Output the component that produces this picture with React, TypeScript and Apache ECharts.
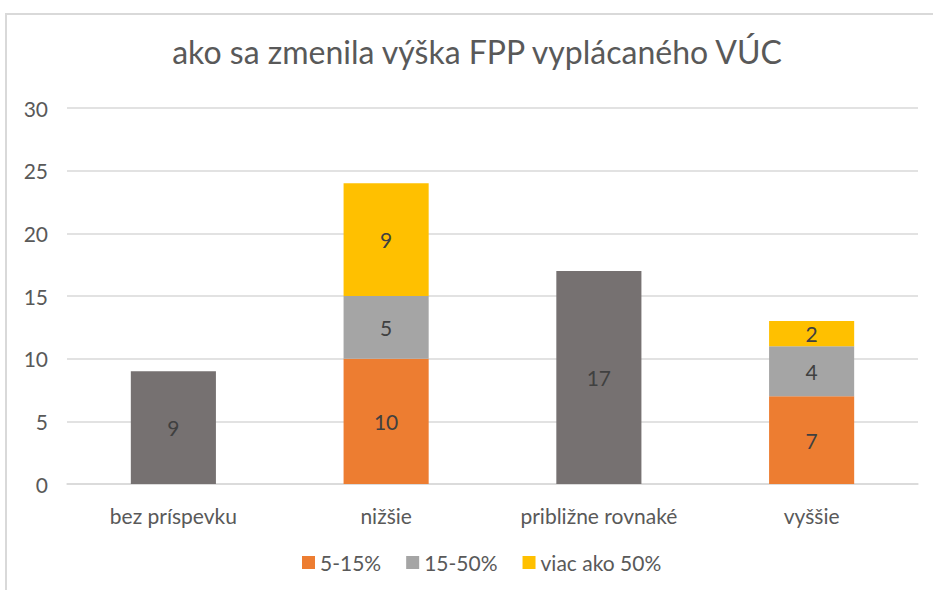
import React, { useEffect, useRef } from "react";
import * as echarts from "echarts";

const titleText = "ako sa zmenila výška FPP vyplácaného VÚC";
const categories = ["bez príspevku", "nižšie", "približne rovnaké", "vyššie"];
const seriesNames = ["5-15%", "15-50%", "viac ako 50%"];
const totalsNoSplit: (number | string)[] = [9, "-", 17, "-"];
const s5to15: (number | string)[] = ["-", 10, "-", 7];
const s15to50: (number | string)[] = ["-", 5, "-", 4];
const sOver50: (number | string)[] = ["-", 9, "-", 2];
const yTicks = { min: 0, max: 30, interval: 5 };

const FONT = "Lato, 'Liberation Sans', sans-serif";
const TXT = "#595959";
const FS = 21;

export default function App() {
  const ref = useRef<HTMLDivElement>(null);
  useEffect(() => {
    if (!ref.current) return;
    const chart = echarts.init(ref.current, undefined, { renderer: "svg" });
    const label = {
      show: true,
      position: "inside",
      color: "#404040",
      fontSize: FS,
      fontFamily: FONT,
    };
    const mk = (name: string, data: (number | string)[], color: string) => ({
      name,
      type: "bar",
      stack: "total",
      data,
      barWidth: "40%",
      itemStyle: { color },
      label,
    });
    chart.setOption({
      animation: false,
      backgroundColor: "#ffffff",
      textStyle: { fontFamily: FONT },
      title: {
        text: titleText,
        left: 477,
        textAlign: "center",
        top: 35,
        padding: 0,
        textStyle: { color: TXT, fontSize: 32, fontWeight: "normal", fontFamily: FONT },
      },
      graphic: [
        {
          type: "rect",
          shape: { x: 6, y: 14, width: 1200, height: 800 },
          style: { fill: "none", stroke: "#D9D9D9", lineWidth: 2 },
          silent: true,
          z: -1,
        },
      ],
      legend: {
        data: seriesNames,
        left: 302,
        top: 552,
        padding: 0,
        itemWidth: 13,
        itemHeight: 13,
        itemGap: 25,
        icon: "rect",
        textStyle: { color: TXT, fontSize: FS, fontFamily: FONT },
      },
      grid: { left: 67, right: 15, top: 108, bottom: 106 },
      xAxis: {
        type: "category",
        data: categories,
        axisLine: { lineStyle: { color: "#D9D9D9", width: 1.5 } },
        axisTick: { show: false },
        axisLabel: { color: TXT, fontSize: FS, fontFamily: FONT, margin: 21, interval: 0 },
      },
      yAxis: {
        type: "value",
        min: yTicks.min,
        max: yTicks.max,
        interval: yTicks.interval,
        axisLine: { show: false },
        axisTick: { show: false },
        axisLabel: { color: TXT, fontSize: FS, fontFamily: FONT, margin: 19 },
        splitLine: { lineStyle: { color: "#D9D9D9", width: 1.5 } },
      },
      series: [
        mk("bez rozdelenia", totalsNoSplit, "#767171"),
        mk(seriesNames[0], s5to15, "#ED7D31"),
        mk(seriesNames[1], s15to50, "#A5A5A5"),
        mk(seriesNames[2], sOver50, "#FFC000"),
      ],
    });
    return () => chart.dispose();
  }, []);
  return (
    <div
      ref={ref}
      style={{ position: "fixed", left: 0, top: 0, width: 933, height: 590 }}
    />
  );
}
